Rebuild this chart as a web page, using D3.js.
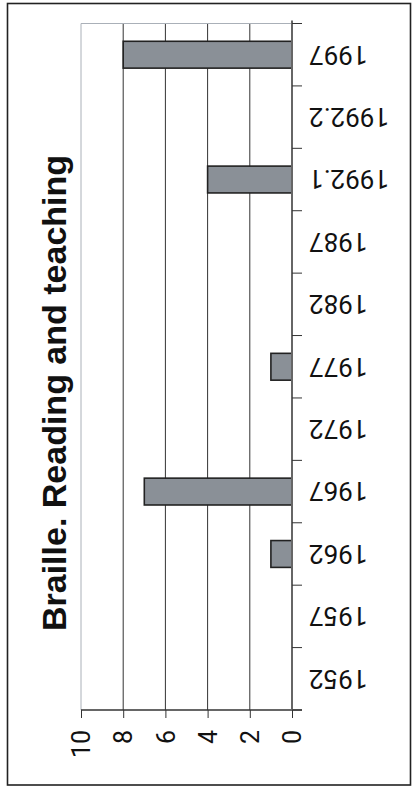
<!DOCTYPE html>
<html>
<head>
<meta charset="utf-8">
<script src="https://cdn.jsdelivr.net/npm/d3@7"></script>
<style>
  html, body { margin: 0; padding: 0; background: #fff; }
  svg { display: block; }
</style>
</head>
<body>
<script>
const categories = ["1952", "1957", "1962", "1967", "1972", "1977", "1982", "1987", "1992.1", "1992.2", "1997"];
const values = [0, 0, 1, 7, 0, 1, 0, 0, 4, 0, 8];
const valueTicks = [0, 2, 4, 6, 8, 10];
const title = "Braille. Reading and teaching";

const W = 417, H = 788;
const svg = d3.select("body").append("svg").attr("width", W).attr("height", H);

// outer frame
svg.append("rect").attr("x", 7.5).attr("y", 3.5).attr("width", 403).attr("height", 781.5)
  .attr("fill", "none").attr("stroke", "#222").attr("stroke-width", 1.6);

const plot = { left: 81, right: 292, top: 23.5, bottom: 710 };

const x = d3.scaleLinear().domain([0, 10]).range([plot.right, plot.left]);
const y = d3.scaleBand().domain(categories.slice().reverse()).range([plot.top, plot.bottom])
  .paddingInner(0.57).paddingOuter(0.285);

// gridlines
svg.append("g").selectAll("line").data(valueTicks.filter(d => d > 0)).join("line")
  .attr("x1", d => x(d)).attr("x2", d => x(d))
  .attr("y1", plot.top).attr("y2", plot.bottom)
  .attr("stroke", d => d === 10 ? "#aab0b8" : "#333").attr("stroke-width", 1);
// top border of plot
svg.append("line").attr("x1", plot.left).attr("x2", plot.right)
  .attr("y1", plot.top).attr("y2", plot.top).attr("stroke", "#aab0b8").attr("stroke-width", 1);

// bars
svg.append("g").selectAll("rect").data(categories.map((c, i) => ({ c, v: values[i] })).filter(d => d.v > 0))
  .join("rect")
  .attr("x", d => x(d.v)).attr("y", d => y(d.c))
  .attr("width", d => x(0) - x(d.v)).attr("height", y.bandwidth())
  .attr("fill", "#8a9097").attr("stroke", "#222").attr("stroke-width", 1.6);

// value axis (bottom)
const xAxis = d3.axisBottom(x).tickValues(valueTicks).tickSize(8).tickFormat(d3.format("d"));
const gx = svg.append("g").attr("transform", `translate(0,${plot.bottom})`).call(xAxis);
gx.select(".domain").attr("stroke", "#333").attr("stroke-width", 1.4)
  .attr("d", `M${plot.left},0H${plot.right + 10}`);
gx.selectAll(".tick line").attr("stroke", "#333").attr("stroke-width", 1);
gx.selectAll(".tick text")
  .attr("transform", "translate(0,20) rotate(-90)")
  .attr("x", 0).attr("y", 0).attr("dy", "0.35em")
  .attr("text-anchor", "end")
  .attr("font-family", "Roboto, Liberation Sans, Arial, sans-serif")
  .attr("font-size", 25).attr("fill", "#111");

// category axis (right)
const yTicks = d3.range(categories.length + 1).map(i => plot.top + i * (plot.bottom - plot.top) / categories.length);
const gy = svg.append("g");
gy.append("line").attr("x1", plot.right).attr("x2", plot.right)
  .attr("y1", plot.top - 3).attr("y2", plot.bottom)
  .attr("stroke", "#666").attr("stroke-width", 2);
gy.selectAll("line.t").data(yTicks).join("line").attr("class", "t")
  .attr("x1", plot.right).attr("x2", plot.right + 10)
  .attr("y1", d => d).attr("y2", d => d)
  .attr("stroke", "#333").attr("stroke-width", 1);
gy.selectAll("text").data(categories).join("text")
  .attr("transform", d => `translate(${plot.right + 17},${y(d) + y.bandwidth() / 2}) rotate(180)`)
  .attr("text-anchor", "end").attr("dy", "0.35em")
  .attr("font-family", "Roboto, Liberation Sans, Arial, sans-serif")
  .attr("font-size", 26).attr("fill", "#111")
  .text(d => d);

// title
svg.append("text")
  .attr("transform", `translate(54,393) rotate(-90)`)
  .attr("text-anchor", "middle").attr("dy", "0.35em")
  .attr("font-family", "Liberation Sans, Arial, sans-serif")
  .attr("font-weight", "bold").attr("font-size", 34).attr("fill", "#111")
  .text(title);
</script>
</body>
</html>
